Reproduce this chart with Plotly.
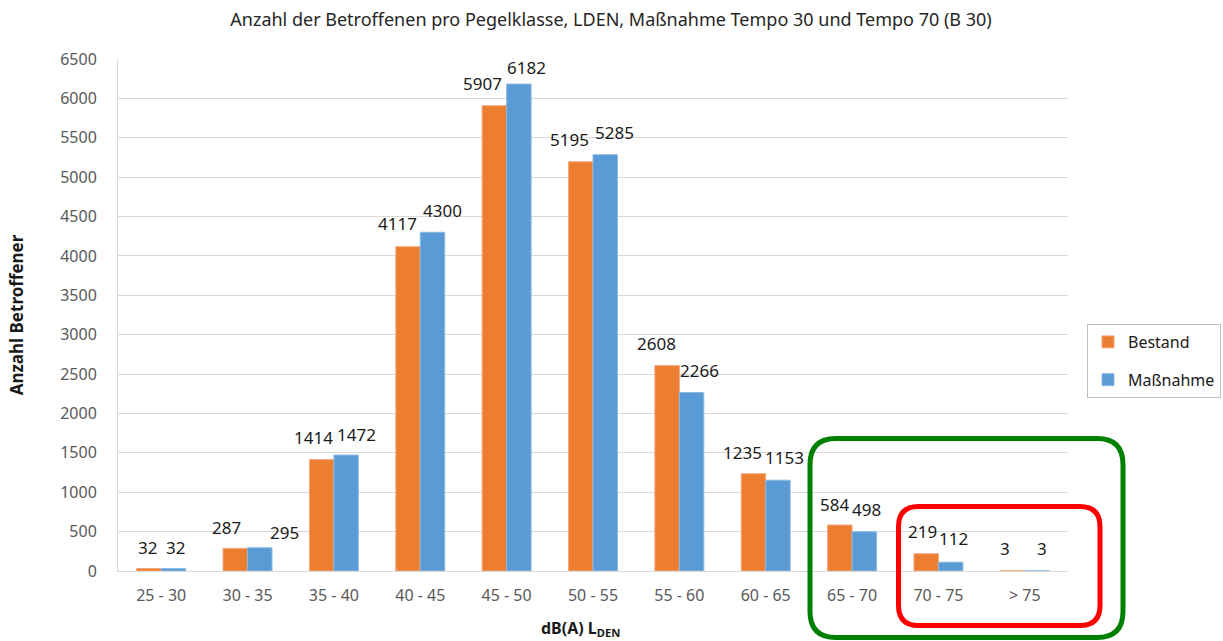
import plotly.graph_objects as go

categories = ["25 - 30", "30 - 35", "35 - 40", "40 - 45", "45 - 50", "50 - 55",
              "55 - 60", "60 - 65", "65 - 70", "70 - 75", "> 75"]
bestand = [32, 287, 1414, 4117, 5907, 5195, 2608, 1235, 584, 219, 3]
massnahme = [32, 295, 1472, 4300, 6182, 5285, 2266, 1153, 498, 112, 3]
series_names = ["Bestand", "Maßnahme"]
y_ticks = list(range(0, 6501, 500))

# label nudges (px) relative to the bar centre / bar top, as placed in the original
bestand_dx = [-1, -9, -8, -11, -12, -11, -11, -11, -5, -4, -8]
bestand_dy = [21, 21, 22, 23, 22, 22, 22, 21, 21, 22, 22]
massnahme_dx = [2, 25, 10, 10, 8, 9, 8, 7, 2, 3, 5]
massnahme_dy = [21, 15, 21, 22, 17, 22, 22, 23, 22, 24, 22]

ORANGE = "#ED7D31"
BLUE = "#5B9BD5"
FONT = "Noto Sans"

W, H = 1223, 641
L, R, T, B = 118, 155, 59, 70
PW, PH = W - L - R, H - T - B

fig = go.Figure()
fig.add_trace(go.Bar(x=categories, y=bestand, name=series_names[0],
                     marker=dict(color=ORANGE, line=dict(width=1, color="#F4A77A")),
                     legendgroup="a", hoverinfo="skip"))
fig.add_trace(go.Bar(x=categories, y=massnahme, name=series_names[1],
                     marker=dict(color=BLUE, line=dict(width=1, color="#8DBBE3")),
                     legendgroup="b", hoverinfo="skip"))

bar_half = PW / len(categories) * (1 - 0.433) / 4  # centre offset of each bar in group

annotations = []
for vals, dxs, dys, sign in ((bestand, bestand_dx, bestand_dy, -1),
                             (massnahme, massnahme_dx, massnahme_dy, 1)):
    for c, v, dx, dy in zip(categories, vals, dxs, dys):
        annotations.append(dict(x=c, y=v, xref="x", yref="y", text=str(v),
                                showarrow=False, xshift=sign * bar_half + dx,
                                yshift=dy, yanchor="middle", xanchor="center",
                                font=dict(family=FONT, size=17, color="#1a1a1a")))

annotations.append(dict(x=(580 - L) / PW, y=-(628 - (T + PH)) / PH, xref="paper", yref="paper",
                        text="<b>dB(A) L<sub>DEN</sub></b>", showarrow=False,
                        xanchor="center", yanchor="middle",
                        font=dict(family=FONT, size=16, color="#1a1a1a")))


def px2paper(x, y):
    return (x - L) / PW, (T + PH - y) / PH


def rounded_rect(x0, y0, x1, y1, r):
    def P(x, y):
        px, py = px2paper(x, y)
        return f"{px:.5f},{py:.5f}"
    return (f"M {P(x0 + r, y0)} L {P(x1 - r, y0)} Q {P(x1, y0)} {P(x1, y0 + r)} "
            f"L {P(x1, y1 - r)} Q {P(x1, y1)} {P(x1 - r, y1)} "
            f"L {P(x0 + r, y1)} Q {P(x0, y1)} {P(x0, y1 - r)} "
            f"L {P(x0, y0 + r)} Q {P(x0, y0)} {P(x0 + r, y0)} Z")


shapes = [
    dict(type="path", xref="paper", yref="paper", path=rounded_rect(810, 438.5, 1123, 637.5, 26),
         line=dict(color="#008000", width=5), layer="above"),
    dict(type="path", xref="paper", yref="paper", path=rounded_rect(898.5, 506.5, 1100, 625.5, 20),
         line=dict(color="#FF0000", width=5), layer="above"),
]

fig.update_layout(
    width=W, height=H,
    margin=dict(l=L, r=R, t=T, b=B, autoexpand=False),
    paper_bgcolor="white", plot_bgcolor="white",
    barmode="group", bargap=0.433, bargroupgap=0,
    title=dict(text="Anzahl der Betroffenen pro Pegelklasse, LDEN, Maßnahme Tempo 30 und Tempo 70 (B 30)",
               x=611 / W, xanchor="center", y=1 - 20 / H, yanchor="middle",
               font=dict(family=FONT, size=18, color="#262626")),
    font=dict(family=FONT),
    showlegend=True,
    hovermode=False,
    legend=dict(x=(1087 - L) / PW, xanchor="left", y=(T + PH - 324) / PH, yanchor="top",
                bordercolor="#BFBFBF", borderwidth=1, bgcolor="white",
                font=dict(family=FONT, size=16, color="#1a1a1a"),
                tracegroupgap=14, itemwidth=30,
                traceorder="grouped"),
    xaxis=dict(type="category", range=[-0.5, len(categories) - 0.5],
               showline=True, linecolor="#D9D9D9", linewidth=1,
               showgrid=False, ticks="", ticklabelstandoff=10,
               tickfont=dict(family=FONT, size=16, color="#595959")),
    yaxis=dict(range=[0, 6500], tickvals=y_ticks, ticktext=[str(v) for v in y_ticks],
               showgrid=True, gridcolor="#D9D9D9", gridwidth=1,
               showline=True, linecolor="#D9D9D9", linewidth=1,
               zeroline=False, ticks="", ticklabelstandoff=17,
               tickfont=dict(family=FONT, size=16, color="#595959"),
               title=dict(text="<b>Anzahl Betroffener</b>", standoff=32,
                          font=dict(family=FONT, size=17, color="#1a1a1a"))),
    annotations=annotations,
    shapes=shapes,
)

fig.write_html("out.html", config={"displayModeBar": False, "staticPlot": True},
               post_script="document.body.style.margin='0';")
